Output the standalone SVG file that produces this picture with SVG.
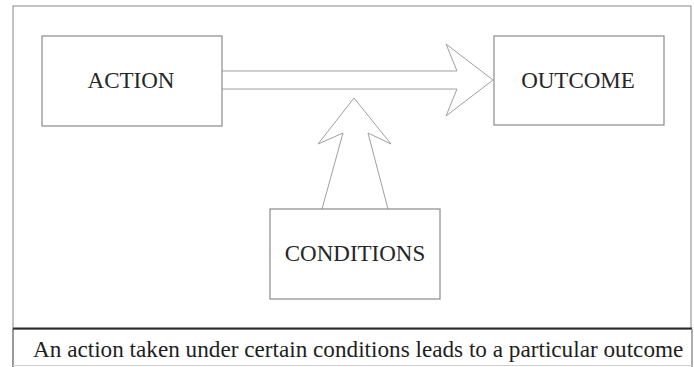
<svg xmlns="http://www.w3.org/2000/svg" width="694" height="367" viewBox="0 0 694 367">
  <style>
    .box { fill: #ffffff; stroke: #8a8a8a; stroke-width: 1.2; }
    .frame { fill: none; stroke: #9a9a9a; stroke-width: 1.2; }
    .arrow { fill: #ffffff; stroke: #a0a0a0; stroke-width: 1; stroke-linejoin: miter; }
    .label { font-family: "Liberation Serif", "Times New Roman", serif; font-size: 23px; fill: #262626; text-anchor: middle; }
    .caption { font-family: "Liberation Serif", "Times New Roman", serif; font-size: 23.2px; fill: #1e1e1e; }
  </style>
  <rect width="694" height="367" fill="#ffffff"/>

  <!-- outer frame -->
  <rect class="frame" x="13" y="6" width="678" height="323"/>

  <!-- connectors -->
  <g id="connectors">
    <!-- block arrow ACTION -> OUTCOME -->
    <path class="arrow" d="M222,71 L457,71 L446,44 L493,80 L446,116 L457,89 L222,89"/>
    <!-- tapered block arrow CONDITIONS -> main arrow -->
    <path class="arrow" d="M322,209 L343,133 L318,144 L354,98 L391,144 L368,133 L388,209"/>
  </g>

  <g id="action">
    <rect class="box" x="42" y="36" width="180" height="90"/>
    <text class="label" x="131" y="88">ACTION</text>
  </g>

  <g id="outcome">
    <rect class="box" x="494" y="36" width="170" height="89"/>
    <text class="label" x="578" y="88">OUTCOME</text>
  </g>

  <g id="conditions">
    <rect class="box" x="270" y="209" width="170" height="90"/>
    <text class="label" x="355" y="261">CONDITIONS</text>
  </g>

  <!-- caption strip -->
  <g id="caption">
    <line x1="13" y1="328.5" x2="692" y2="328.5" stroke="#2a2a2a" stroke-width="2"/>
    <line x1="13" y1="329" x2="13" y2="367" stroke="#555" stroke-width="1.2"/>
    <line x1="692" y1="329" x2="692" y2="367" stroke="#777" stroke-width="1.2"/>
    <line x1="13" y1="365.5" x2="692" y2="365.5" stroke="#d0d0d0" stroke-width="1"/>
    <text class="caption" x="33" y="357">An action taken under certain conditions leads to a particular outcome</text>
  </g>
</svg>
